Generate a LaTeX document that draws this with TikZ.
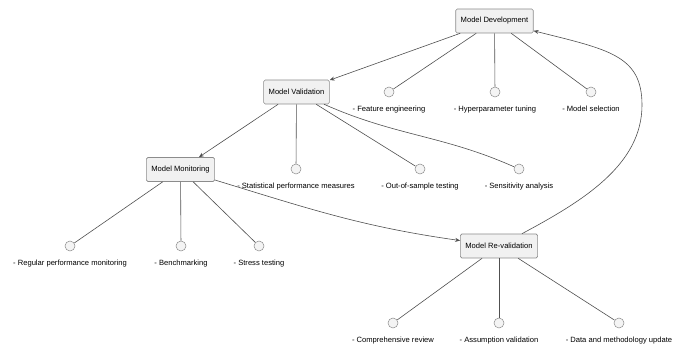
\documentclass[tikz,border=0pt]{standalone}
\usepackage{fontspec}
\setmainfont{Liberation Sans}
\usetikzlibrary{arrows.meta}
\definecolor{boxfill}{HTML}{F1F1F1}
\definecolor{boxline}{HTML}{8C8C8C}
\definecolor{edgecol}{HTML}{505050}
\definecolor{leaffill}{HTML}{F4F4F4}
\begin{document}
\begin{tikzpicture}[x=1pt,y=1pt,
  font=\fontsize{7.6}{9}\selectfont,
  stage/.style={draw=boxline, fill=boxfill, rounded corners=1.5pt, minimum height=24pt, inner xsep=5pt, inner ysep=2pt, line width=0.6pt, text=black},
  leaf/.style={circle, draw=boxline, fill=leaffill, minimum size=10pt, inner sep=0pt, line width=0.5pt},
  leaftext/.style={anchor=base, inner sep=0pt, text=black},
  link/.style={draw=edgecol, line width=0.6pt},
  flow/.style={link, -{Stealth[length=5pt,width=4pt]}}
]
\fill[white] (0,0) rectangle (681,-347);
\useasboundingbox (0,0) rectangle (681,-347);

% stages
\node[stage] (md) at (494.5,-21) {Model Development};
\node[stage] (mv) at (296.5,-92) {Model Validation};
\node[stage] (mm) at (180.5,-169.5) {Model Monitoring};
\node[stage] (mr) at (499,-246) {Model Re-validation};

% leaves
\newcommand\leafitem[4]{%
  \node[leaf] (#1) at (#2,#3) {};
  \node[leaftext] (#1t) at ([yshift=-19.5pt]#1.center) {#4};}
\leafitem{fe}{389}{-92}{- Feature engineering}
\leafitem{ht}{495}{-92}{- Hyperparameter tuning}
\leafitem{ms}{591}{-92}{- Model selection}
\leafitem{sp}{296}{-169}{- Statistical performance measures}
\leafitem{os}{420}{-169}{- Out-of-sample testing}
\leafitem{sa}{519}{-169}{- Sensitivity analysis}
\leafitem{rp}{70}{-246}{- Regular performance monitoring}
\leafitem{bm}{181}{-246}{- Benchmarking}
\leafitem{st}{259}{-246}{- Stress testing}
\leafitem{cr}{393}{-323}{- Comprehensive review}
\leafitem{av}{499}{-323}{- Assumption validation}
\leafitem{dm}{619}{-323}{- Data and methodology update}

% leaf links
\path[link] (md) -- (fe);
\path[link] (md) -- (ht);
\path[link] (md) -- (ms);
\path[link] (mv) -- (sp);
\path[link] (mv) -- (os);
\path[link] (mv) to[out=-24,in=156] (sa);
\path[link] (mm) -- (rp);
\path[link] (mm) -- (bm);
\path[link] (mm) -- (st);
\path[link] (mr) -- (cr);
\path[link] (mr) -- (av);
\path[link] (mr) -- (dm);

% flow
\path[flow] (md) -- (mv);
\path[flow] (mv) -- (mm);
\path[flow] (mm) to[out=-17,in=172] (mr);
\coordinate (via) at (642,-105);
\path[flow] (mr) .. controls (583,-201) and (642,-165) .. (via) .. controls (642,-55) and (608,-49.5) .. (md);
\end{tikzpicture}
\end{document}
